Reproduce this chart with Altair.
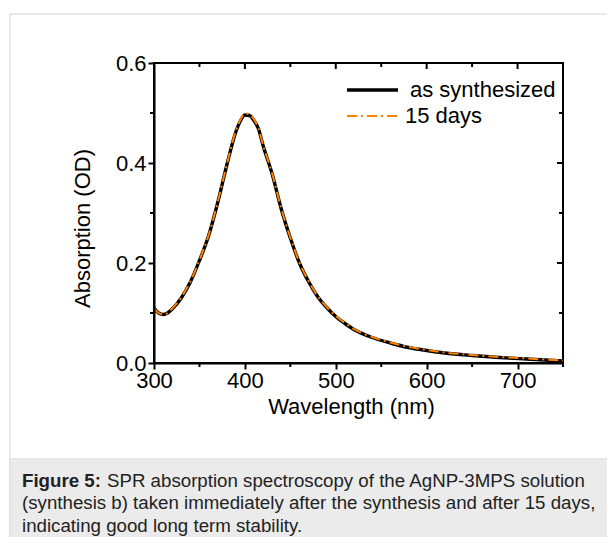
import altair as alt
import pandas as pd

# ---- data ----
wavelength = [300, 305, 310, 315, 320, 330, 340, 350, 360, 370, 380, 390, 395, 400,
              405, 410, 415, 420, 430, 440, 450, 460, 470, 480, 490, 500, 510, 520,
              540, 560, 580, 600, 620, 650, 680, 710, 750]
as_synthesized = [0.110, 0.100, 0.097, 0.100, 0.108, 0.130, 0.162, 0.205, 0.254, 0.320,
                  0.395, 0.462, 0.484, 0.496, 0.495, 0.485, 0.468, 0.435, 0.378, 0.308,
                  0.250, 0.200, 0.163, 0.133, 0.111, 0.093, 0.079, 0.067, 0.051, 0.040,
                  0.031, 0.025, 0.020, 0.015, 0.011, 0.008, 0.004]
days_15 = [0.109, 0.100, 0.097, 0.100, 0.109, 0.131, 0.163, 0.206, 0.255, 0.321,
           0.396, 0.464, 0.486, 0.499, 0.497, 0.487, 0.469, 0.436, 0.379, 0.309,
           0.251, 0.201, 0.164, 0.134, 0.112, 0.094, 0.080, 0.068, 0.052, 0.041,
           0.032, 0.026, 0.021, 0.016, 0.012, 0.009, 0.005]
series_names = ["as synthesized", "15 days"]
series_colors = ["#000000", "#ff8000"]

x_major = [300, 400, 500, 600, 700]
x_minor = [350, 450, 550, 650, 750]
y_major = [0.0, 0.2, 0.4, 0.6]
y_minor = [0.1, 0.3, 0.5]

caption_bold = "Figure 5:"
caption_lines = [
    "SPR absorption spectroscopy of the AgNP-3MPS solution",
    "(synthesis b) taken immediately after the synthesis and after 15 days,",
    "indicating good long term stability.",
]

# ---- tables ----
df = pd.DataFrame({
    "wavelength": wavelength * 2,
    "absorption": as_synthesized + days_15,
    "series": [series_names[0]] * len(wavelength) + [series_names[1]] * len(wavelength),
})
xmaj_df = pd.DataFrame({"wavelength": x_major})
xmin_df = pd.DataFrame({"wavelength": x_minor})
ymaj_df = pd.DataFrame({"absorption": y_major})
ymin_df = pd.DataFrame({"absorption": y_minor})
one = pd.DataFrame({"k": [0]})

W, H = 409, 300
FONT = "Liberation Sans"
CAP = 18.7

xscale = alt.Scale(domain=[300, 750], nice=False, zero=False)
yscale = alt.Scale(domain=[0, 0.6], nice=False)
xaxis = alt.Axis(values=x_major, title="Wavelength (nm)", tickSize=6, labelFlush=False,
                 labelPadding=1, titleX=197, titleY=43, titleBaseline="middle", zindex=1)
yaxis = alt.Axis(values=y_major, format=".1f", title="Absorption (OD)", tickSize=6,
                 labelFlush=False, labelPadding=2, titleX=-72, titleY=165,
                 titleBaseline="middle", zindex=1)
XE = alt.X("wavelength:Q", scale=xscale, axis=xaxis)
YE = alt.Y("absorption:Q", scale=yscale, axis=yaxis)

# background frame and caption box
frame = alt.Chart(one).mark_rect(fillOpacity=0, stroke="#e2e2e2", strokeWidth=1.5).encode(
    x=alt.value(-144), x2=alt.value(480), y=alt.value(-49), y2=alt.value(500))
cap_box = alt.Chart(one).mark_rect(fill="#ebebeb", stroke="#e2e2e2", strokeWidth=1.5).encode(
    x=alt.value(-144), x2=alt.value(480), y=alt.value(396), y2=alt.value(500))

def cap_text(txt, x, y, bold=False):
    return alt.Chart(one).mark_text(align="left", baseline="middle", font=FONT, fontSize=CAP,
                                    fontWeight="bold" if bold else "normal",
                                    color="#222222").encode(
        x=alt.value(x), y=alt.value(y), text=alt.value(txt))

caps = [
    cap_text(caption_bold, -132, 418, bold=True),
    cap_text(caption_lines[0], -47, 418),
    cap_text(caption_lines[1], -132, 440),
    cap_text(caption_lines[2], -132, 463),
]

# main lines
line1 = alt.Chart(df).transform_filter(alt.datum.series == series_names[0]).mark_line(
    color=series_colors[0], strokeWidth=3.4, interpolate="monotone").encode(x=XE, y=YE)
line2 = alt.Chart(df).transform_filter(alt.datum.series == series_names[1]).mark_line(
    color=series_colors[1], strokeWidth=2, strokeDash=[10, 4, 2, 4],
    interpolate="monotone").encode(x=XE, y=YE)

# mirrored / minor ticks
def xticks(d, y0, y1):
    return alt.Chart(d).mark_rule(color="black", strokeWidth=2).encode(
        x=XE, y=alt.value(y0), y2=alt.value(y1))

def yticks(d, x0, x1):
    return alt.Chart(d).mark_rule(color="black", strokeWidth=2).encode(
        y=YE, x=alt.value(x0), x2=alt.value(x1))

ticks = [
    xticks(xmaj_df, 0, 6), xticks(xmin_df, 0, 4), xticks(xmin_df, H, H + 4),
    yticks(ymaj_df, W - 6, W), yticks(ymin_df, W - 4, W), yticks(ymin_df, -4, 0),
]

# legend
leg1 = alt.Chart(one).mark_rule(color=series_colors[0], strokeWidth=3.4).encode(
    x=alt.value(193), x2=alt.value(244), y=alt.value(27))
leg2 = alt.Chart(one).mark_rule(color=series_colors[1], strokeWidth=2,
                                strokeDash=[10, 4, 2, 4]).encode(
    x=alt.value(193), x2=alt.value(244), y=alt.value(53))
legt1 = alt.Chart(one).mark_text(align="left", baseline="middle", font=FONT, fontSize=22,
                                 color="black").encode(
    x=alt.value(256), y=alt.value(27), text=alt.value(series_names[0]))
legt2 = alt.Chart(one).mark_text(align="left", baseline="middle", font=FONT, fontSize=22,
                                 color="black").encode(
    x=alt.value(251), y=alt.value(53), text=alt.value(series_names[1]))

chart = alt.layer(
    line1, frame, cap_box, *caps, *ticks, line2, leg1, leg2, legt1, legt2
).properties(
    width=W, height=H,
    autosize=alt.AutoSizeParams(type="none"),
    padding={"left": 146, "top": 55, "right": 44, "bottom": 174},
    background="white",
).configure_view(
    stroke="black", strokeWidth=2
).configure_axis(
    grid=False, domainColor="black", domainWidth=2, tickColor="black", tickWidth=2,
    labelFont=FONT, labelFontSize=22, labelColor="black",
    titleFont=FONT, titleFontSize=22, titleFontWeight="normal", titleColor="black",
)

chart.save("out.html", embed_options={"renderer": "svg", "actions": False})
